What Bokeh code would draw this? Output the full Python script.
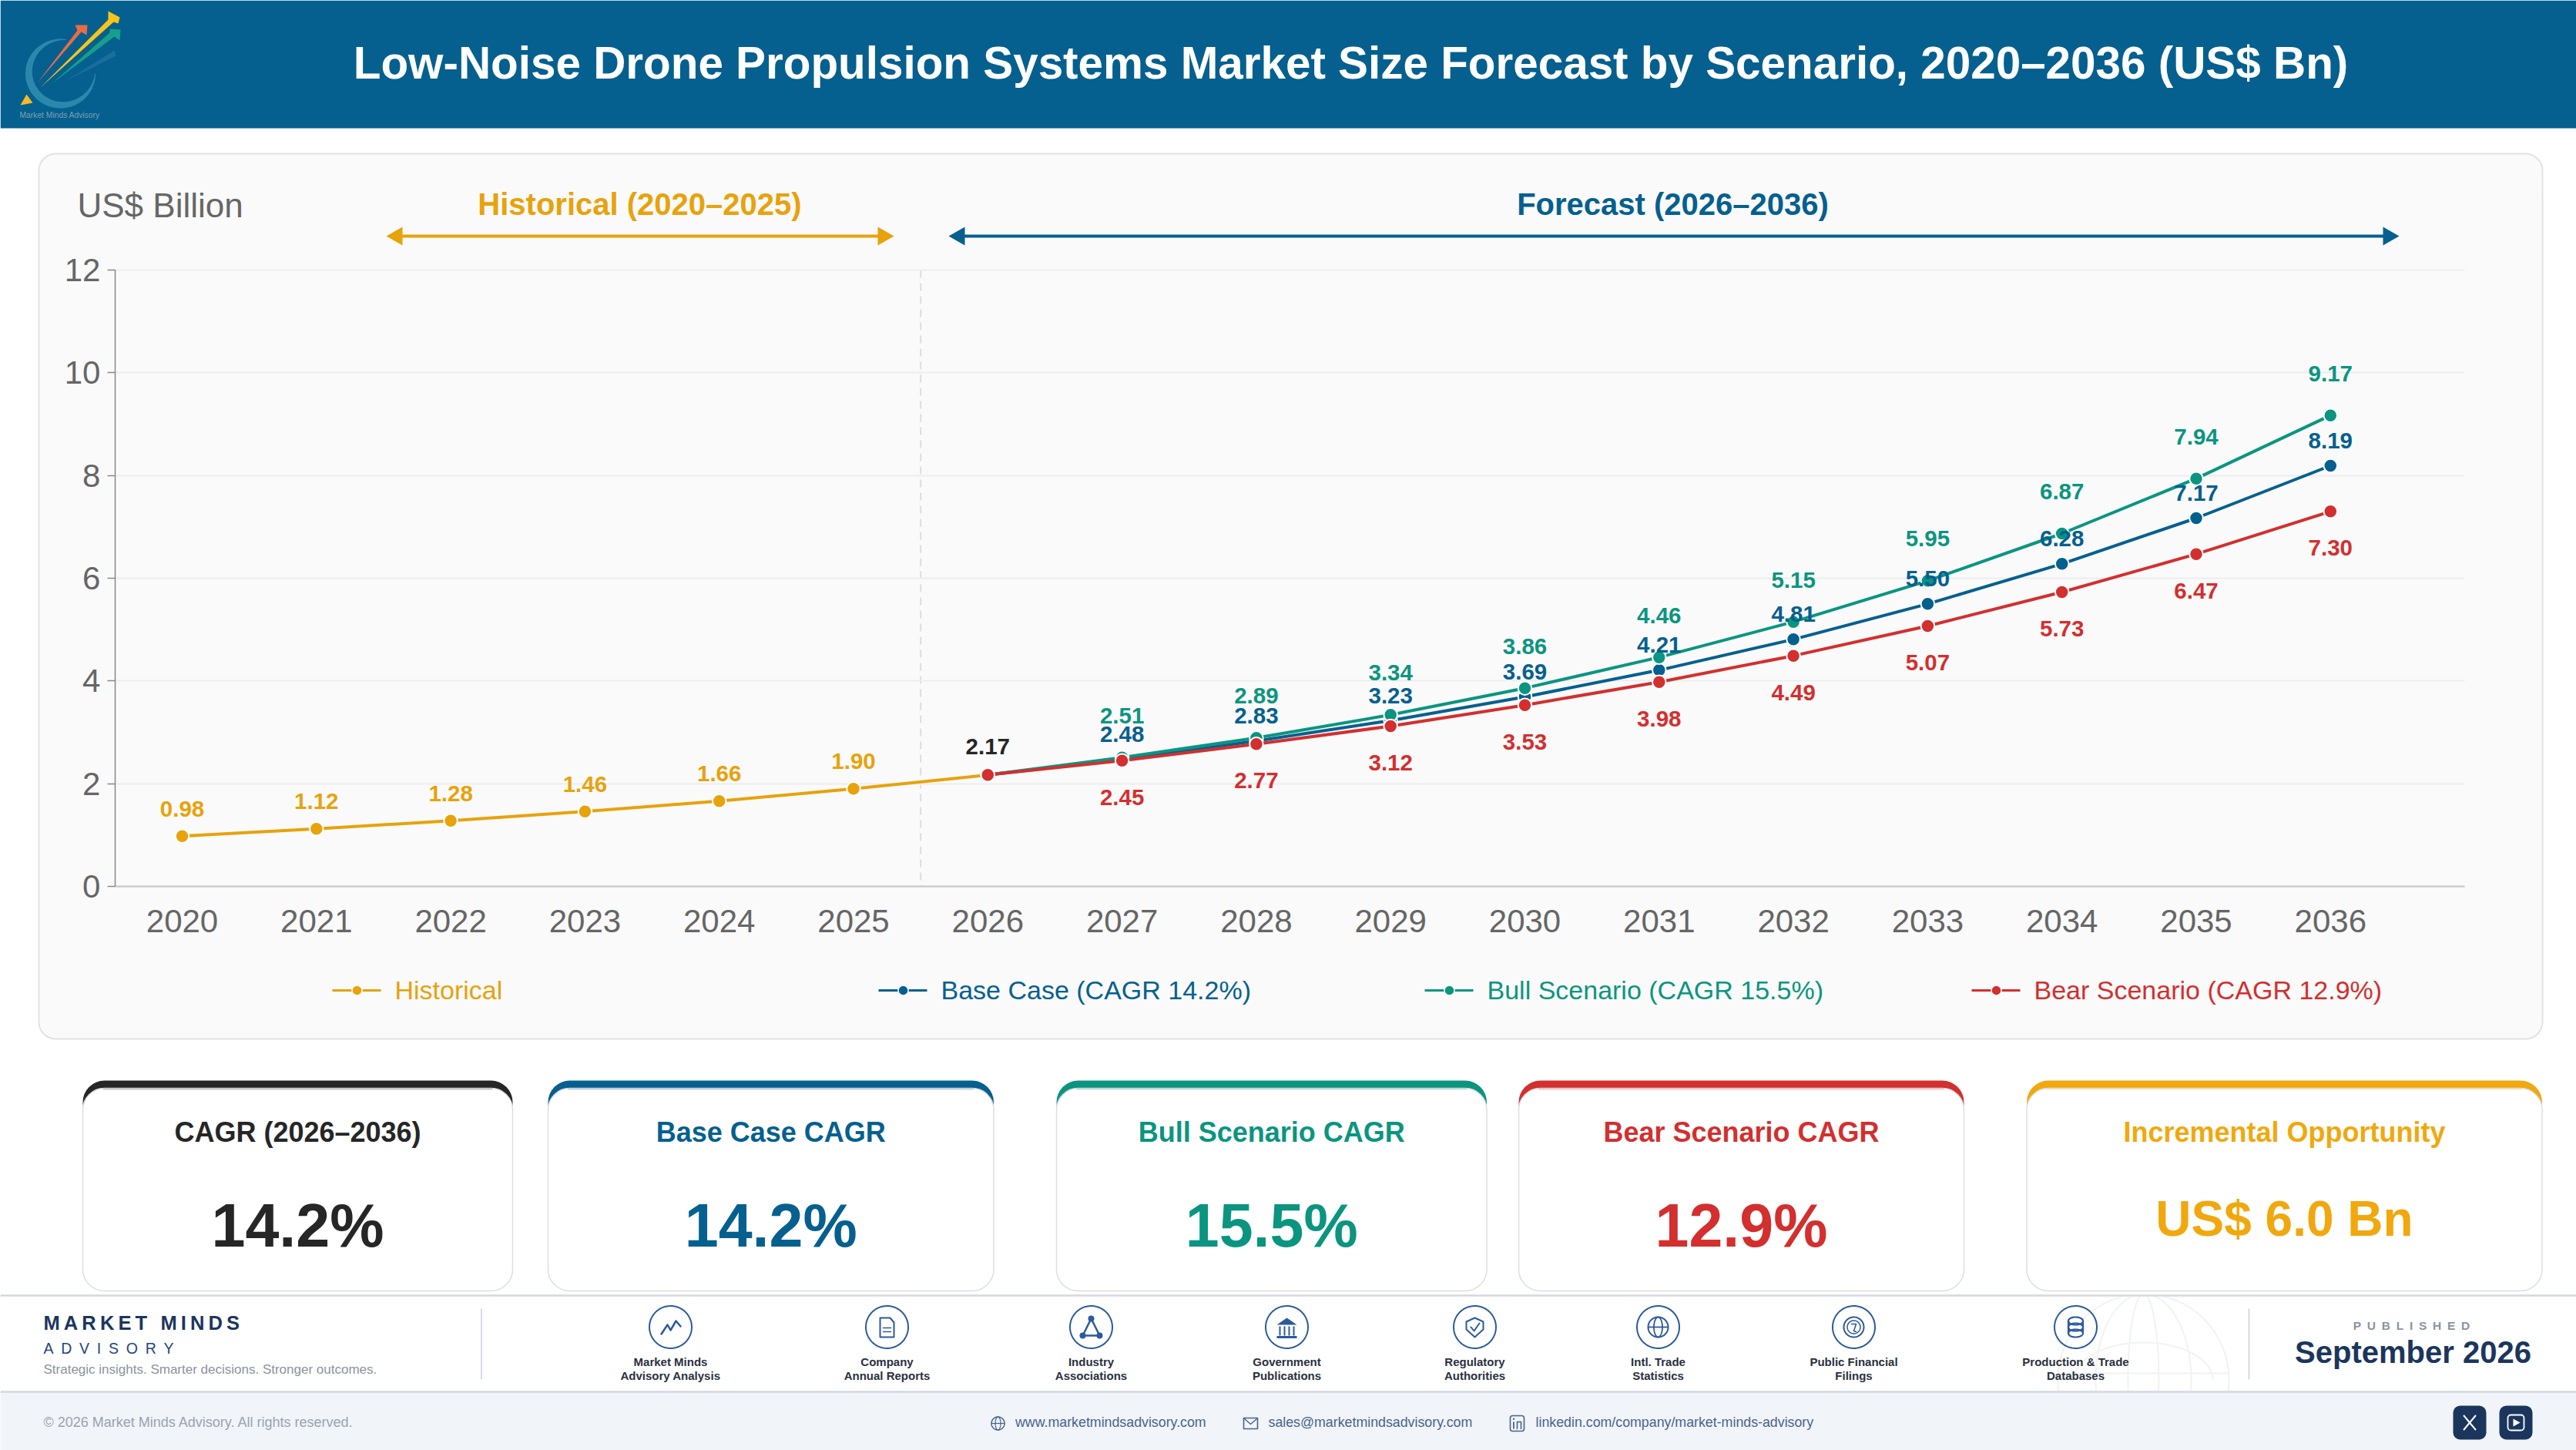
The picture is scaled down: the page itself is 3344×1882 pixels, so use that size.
import numpy as np
from bokeh.core.properties import value
from bokeh.embed import file_html
from bokeh.models import FixedTicker, Grid, LinearAxis, Range1d
from bokeh.plotting import figure
from bokeh.resources import INLINE

# ---- data -------------------------------------------------------------
YEARS_HIST = [2020, 2021, 2022, 2023, 2024, 2025, 2026]
HISTORICAL = [0.98, 1.12, 1.28, 1.46, 1.66, 1.90, 2.17]
YEARS_FCST = [2026, 2027, 2028, 2029, 2030, 2031, 2032, 2033, 2034, 2035, 2036]
BASE = [2.17, 2.48, 2.83, 3.23, 3.69, 4.21, 4.81, 5.50, 6.28, 7.17, 8.19]
BULL = [2.17, 2.51, 2.89, 3.34, 3.86, 4.46, 5.15, 5.95, 6.87, 7.94, 9.17]
BEAR = [2.17, 2.45, 2.77, 3.12, 3.53, 3.98, 4.49, 5.07, 5.73, 6.47, 7.30]
X_TICKS = YEARS_HIST + YEARS_FCST[1:]
Y_TICKS = [0, 2, 4, 6, 8, 10, 12]

TITLE = "Low-Noise Drone Propulsion Systems Market Size Forecast by Scenario, 2020\u20132036 (US$ Bn)"
KPI_TITLES = ["CAGR (2026\u20132036)", "Base Case CAGR", "Bull Scenario CAGR", "Bear Scenario CAGR", "Incremental Opportunity"]
KPI_VALUES = ["14.2%", "14.2%", "15.5%", "12.9%", "US$ 6.0 Bn"]
SOURCES = [("Market Minds", "Advisory Analysis"), ("Company", "Annual Reports"), ("Industry", "Associations"),
           ("Government", "Publications"), ("Regulatory", "Authorities"), ("Intl. Trade", "Statistics"),
           ("Public Financial", "Filings"), ("Production & Trade", "Databases")]

# ---- palette -----------------------------------------------------------
HEAD = "#05608F"
BLUE = "#05608F"
GREEN = "#0B9580"
RED = "#D32F2F"
AMBER = "#E8A20C"
AMBER2 = "#F0A80E"
INK = "#262626"
NAVY = "#1B365D"
ICON = "#2B5A9E"
GREY = "#666666"
FONT = "Liberation Sans"

# ---- figure: the frame fills the page, data ranges placed on the page --
PW, PH = 3344, 1882
X0, XU = 236.0, 174.3     # page x of 2020, pixels per year
Y0, YU = 1150.0, 800 / 12 # page y of value 0, pixels per unit

p = figure(width=PW, height=PH, output_backend="svg", toolbar_location=None,
           x_range=Range1d(2020 - X0 / XU, 2020 + (PW - X0) / XU),
           y_range=Range1d(-(PH - Y0) / YU, Y0 / YU),
           min_border=0, outline_line_color=None, background_fill_color="white",
           border_fill_color="white", x_axis_type=None, y_axis_type=None)
p.xgrid.visible = False
p.ygrid.visible = False
p.extra_x_ranges = {"px": Range1d(0, PW)}
p.extra_y_ranges = {"py": Range1d(PH, 0)}
PG = dict(x_range_name="px", y_range_name="py")


def box(l, t, r, b, fill, line=None, lw=1.0, radius=0, level="image"):
    p.quad(left=[l], right=[r], top=[t], bottom=[b], fill_color=fill, line_color=line,
           line_width=lw, border_radius=radius, level=level, **PG)


def pline(xs, ys, color, lw=2.0, level="image", dash="solid", alpha=1.0, cap="round"):
    p.line(list(xs), list(ys), line_color=color, line_width=lw, level=level, line_dash=dash,
           line_alpha=alpha, line_cap=cap, line_join="round", **PG)


def tri(xs, ys, color, level="image", alpha=1.0):
    p.patch(list(xs), list(ys), fill_color=color, line_color=None, level=level, fill_alpha=alpha, **PG)


def label(x, y, s, size, color, bold=False, align="left"):
    # y is the wanted baseline; the text box is anchored on its cap-height middle
    p.text([x], [y - 0.358 * size], text=[s], text_font=value(FONT), text_font_size=f"{size}px",
           text_font_style="bold" if bold else "normal", text_color=color, text_align=align,
           text_baseline="alphabetic", level="overlay", **PG)


def ring(cx, cy, rx, ry, color, lw=2.0, a0=0.0, a1=2 * np.pi, level="image", alpha=1.0):
    t = np.linspace(a0, a1, 80)
    pline(cx + rx * np.cos(t), cy + ry * np.sin(t), color, lw, level=level, alpha=alpha)


# ---- header ------------------------------------------------------------
box(0, 0, PW, 166, HEAD)
# logo: swoosh (crescent), arrows, small triangle
ang = np.radians(np.linspace(-80, -360, 90))
wid = 9 * np.sin(np.linspace(0, np.pi, 90)) + 0.8
sx = np.concatenate([78 + 45.5 * np.cos(ang), (78 + (45.5 - wid) * np.cos(ang))[::-1]])
sy = np.concatenate([95 + 45 * np.sin(ang), (95 + (45 - wid) * np.sin(ang))[::-1]])
tri(sx, sy, "#2B88AB")
tri([84, 148, 150], [105, 65, 72], "#2B77A8", alpha=0.6)
tri([48, 100, 97, 113, 112, 105], [107, 39, 32, 32, 45, 41], "#EE6A45")
tri([52, 140, 140, 155, 153, 147], [113, 25, 14, 22, 30, 28], "#F7C51A")
tri([68, 142, 142, 156, 155, 148], [107, 42, 37, 38, 52, 47], "#16A08A")
tri([26, 34, 42], [136, 122, 133], "#F7B924")
label(25, 153, "Market Minds Advisory", 10.3, "#7E9FB5")
label(1753, 102, TITLE, 58.4, "white", bold=True, align="center")

# ---- chart panel -------------------------------------------------------
box(50, 199, 3300, 1348, "#FAFAFA", "#E2E2E2", 2, 22)
label(100, 282, "US$ Billion", 44, GREY)
label(830, 279, "Historical (2020\u20132025)", 40, AMBER, bold=True, align="center")
label(2171, 279, "Forecast (2026\u20132036)", 40, BLUE, bold=True, align="center")
for (l, r, c) in [(501, 1160, AMBER), (1231, 3114, BLUE)]:
    pline([l + 15, r - 15], [306, 306], c, 4, cap="butt")
    tri([l, l + 21, l + 21], [306, 294, 318], c)
    tri([r, r - 21, r - 21], [306, 294, 318], c)

# grid and axes
XB = (2019.5, 2037.0)
p.add_layout(Grid(dimension=1, ticker=FixedTicker(ticks=Y_TICKS[1:]), cross_bounds=XB,
                  grid_line_color="#EDEDED", grid_line_width=2))
xax = LinearAxis(ticker=FixedTicker(ticks=X_TICKS), fixed_location=0, bounds=XB,
                 major_label_overrides={y: str(y) for y in X_TICKS},
                 major_tick_line_color=None, minor_tick_line_color=None,
                 axis_line_color="#CCCCCC", axis_line_width=2.5,
                 major_label_text_font=FONT, major_label_text_font_size="42px",
                 major_label_text_color=GREY, major_label_standoff=24)
yax = LinearAxis(ticker=FixedTicker(ticks=Y_TICKS), fixed_location=XB[0], bounds=(0, 12),
                 major_tick_line_color="#888888", major_tick_line_width=1.5,
                 major_tick_in=0, major_tick_out=10, minor_tick_line_color=None,
                 axis_line_color="#888888", axis_line_width=1.5,
                 major_label_text_font=FONT, major_label_text_font_size="42px",
                 major_label_text_color=GREY, major_label_standoff=9)
p.add_layout(xax, "below")
p.add_layout(yax, "left")

# dashed divider between history and forecast
p.line([2025.5, 2025.5], [12, 0], line_color="#DDDDDD", line_width=2, line_dash=[10, 7], level="underlay")

# series
for xs, ys, c in [(YEARS_HIST, HISTORICAL, AMBER), (YEARS_FCST, BASE, BLUE), (YEARS_FCST, BULL, GREEN), (YEARS_FCST, BEAR, RED)]:
    p.line(xs, ys, line_color=c, line_width=4)
    p.scatter(xs, ys, size=17.5, fill_color=c, line_color="white", line_width=2)


def value_labels(xs, ys, color, off):
    p.text(xs, ys, text=[f"{v:.2f}" for v in ys], text_font=value(FONT), text_font_size="29.5px",
           text_font_style="bold", text_color=color, text_align="center",
           text_baseline="alphabetic", y_offset=off - 10.6, level="overlay")


value_labels(YEARS_HIST[:6], HISTORICAL[:6], AMBER, -25)
value_labels(YEARS_HIST[6:], HISTORICAL[6:], INK, -26)
value_labels(YEARS_FCST[1:], BASE[1:], BLUE, -22)
value_labels(YEARS_FCST[1:], BULL[1:], GREEN, -44)
value_labels(YEARS_FCST[1:], BEAR[1:], RED, 58)

# legend
LEGEND = [("Historical", AMBER, 431), ("Base Case (CAGR 14.2%)", BLUE, 1140),
          ("Bull Scenario (CAGR 15.5%)", GREEN, 1849), ("Bear Scenario (CAGR 12.9%)", RED, 2559)]
for s, c, x in LEGEND:
    pline([x, x + 63], [1285, 1285], c, 3, level="glyph", cap="butt")
    p.scatter([x + 32], [1285], size=13, fill_color=c, line_color="#FAFAFA", line_width=1.5, **PG)
    label(x + 81, 1296.5, s, 34, c)

# ---- KPI cards ---------------------------------------------------------
CARDS = [(107, 665, INK), (711, 1289.5, BLUE), (1371, 1929.5, GREEN), (1971, 2549, RED), (2630.5, 3299.5, AMBER2)]
for i, (l, r, c) in enumerate(CARDS):
    box(l, 1402, r, 1460, c, None, 1, 28)
    box(l, 1412, r, 1675, "white", "#DEDEDE", 1.5, 28)
    pline([l + 26, r - 26], [1413, 1413], c, 2.5, alpha=0.2, cap="butt")
    cx = (l + r) / 2
    label(cx, 1482, KPI_TITLES[i], 36, c, bold=True, align="center")
    if i == 4:
        label(cx, 1604, KPI_VALUES[i], 64, c, bold=True, align="center")
    else:
        label(cx, 1618, KPI_VALUES[i], 79, c, bold=True, align="center")

# ---- footer ------------------------------------------------------------
# watermark globe sits under the footer strip
t_ = np.linspace(0, 2 * np.pi, 120)
for rx in (111, 62, 20):
    xs, ys = 2782 + rx * np.cos(t_), 1790 + 111 * np.sin(t_)
    ys2 = np.where(ys < 1682, np.nan, ys)
    pline(xs, ys2, "#F1F2F5", 2)
pline([2671, 2893], [1782, 1782], "#F1F2F5", 2)
ring(2782, 1790, 90, 48, "#F1F2F5", 2, a0=np.pi, a1=2 * np.pi)

box(0, 1806, PW, PH, "#F1F4F9")
pline([0, PW], [1681, 1681], "#D3D7E3", 2.5, cap="butt")
pline([0, PW], [1806, 1806], "#D3D7E3", 2.5, cap="butt")

label(56, 1726, "\u2009".join("MARKET MINDS"), 25.5, NAVY, bold=True)
label(56, 1756, "\u2002".join("ADVISORY"), 19.5, "#24487C")
label(56, 1783, "Strategic insights. Smarter decisions. Stronger outcomes.", 17, "#8B93A0")
pline([624.5, 624.5], [1698, 1790], "#C9CEDA", 1.5, cap="butt")
pline([2919, 2919], [1698, 1790], "#C9CEDA", 1.5, cap="butt")
label(3130, 1726, "\u2002".join("PUBLISHED"), 15.5, "#8B93A0", bold=True, align="center")
label(3132, 1769, "September 2026", 40, NAVY, bold=True, align="center")

CX = [870, 1151, 1416, 1670, 1914, 2152, 2406, 2694]
CY = 1722
for x, (a, b) in zip(CX, SOURCES):
    ring(x, CY, 27.5, 27.5, ICON, 2)
    label(x, 1772, a, 15, "#2A3040", bold=True, align="center")
    label(x, 1790, b, 15, "#2A3040", bold=True, align="center")

x = CX[0]
pline([x - 12, x - 4, x, x + 7, x + 13], [CY + 9, CY - 3, CY + 4, CY - 8, CY - 1], ICON, 2.5)
x = CX[1]
pline([x - 9, x + 4, x + 9, x + 9, x - 9, x - 9], [CY - 12, CY - 12, CY - 6, CY + 13, CY + 13, CY - 12], ICON, 2)
pline([x - 5, x + 5], [CY + 1, CY + 1], ICON, 1.5)
pline([x - 5, x + 5], [CY + 6, CY + 6], ICON, 1.5)
x = CX[2]
pline([x, x - 11, x + 11, x], [CY - 11, CY + 11, CY + 11, CY - 11], ICON, 2.5)
p.scatter([x, x - 11, x + 11], [CY - 11, CY + 11, CY + 11], size=8, fill_color=ICON, line_color=None, level="image", **PG)
x = CX[3]
tri([x, x - 13, x + 13], [CY - 12, CY - 3, CY - 3], ICON)
for dx in (-9, -3, 3, 9):
    pline([x + dx, x + dx], [CY - 1, CY + 11], ICON, 2, cap="butt")
pline([x - 13, x + 13], [CY + 13, CY + 13], ICON, 3, cap="butt")
x = CX[4]
pline([x, x + 11, x + 11, x, x - 11, x - 11, x], [CY - 12, CY - 7, CY + 3, CY + 13, CY + 3, CY - 7, CY - 12], ICON, 2)
pline([x - 5, x - 1, x + 6], [CY, CY + 5, CY - 5], ICON, 2)
x = CX[5]
ring(x, CY, 13, 13, ICON, 2)
ring(x, CY, 5.5, 13, ICON, 1.8)
pline([x - 13, x + 13], [CY, CY], ICON, 1.8, cap="butt")
x = CX[6]
ring(x, CY, 13, 13, ICON, 2)
ring(x, CY, 8.5, 8.5, ICON, 1.5)
pline([x - 3, x + 3, x, x + 3], [CY - 4, CY - 4, CY + 5, CY + 6], ICON, 1.6)
x = CX[7]
for dy in (-8, 0, 8):
    ring(x, CY + dy, 9.5, 5, ICON, 2.2)
pline([x - 9.5, x - 9.5], [CY - 8, CY + 8], ICON, 2.2, cap="butt")
pline([x + 9.5, x + 9.5], [CY - 8, CY + 8], ICON, 2.2, cap="butt")

# bottom strip
SLATE = "#48648C"
label(56, 1852, "\u00a9 2026 Market Minds Advisory. All rights reserved.", 18, "#9AA3B0")
label(1317.5, 1852, "www.marketmindsadvisory.com", 17.8, SLATE)
label(1646, 1852, "sales@marketmindsadvisory.com", 17.8, SLATE)
label(1993, 1852, "linkedin.com/company/market-minds-advisory", 17.8, SLATE)
ring(1295, 1847, 8.5, 8.5, SLATE, 1.5)
ring(1295, 1847, 3.5, 8.5, SLATE, 1.2)
pline([1286.5, 1303.5], [1847, 1847], SLATE, 1.2, cap="butt")
pline([1614, 1632, 1632, 1614, 1614], [1840, 1840, 1854, 1854, 1840], SLATE, 1.6)
pline([1615, 1623, 1631], [1841, 1848, 1841], SLATE, 1.4)
box(1960, 1837, 1978, 1857, None, SLATE, 1.6, 3)
pline([1964.5, 1964.5], [1845, 1854], SLATE, 1.8, cap="butt")
pline([1964.5, 1964.6], [1841, 1841.5], SLATE, 2.2)
pline([1969, 1969, 1974, 1974], [1854, 1845, 1845, 1854], SLATE, 1.6)

box(3184, 1824, 3227, 1868, NAVY, None, 1, 9)
pline([3198, 3213], [1837, 1855], "white", 2)
pline([3213, 3198], [1837, 1855], "white", 2)
box(3244, 1824, 3287, 1868, NAVY, None, 1, 9)
box(3255, 1836, 3276, 1856, None, "white", 1.8, 4)
tri([3262, 3262, 3271], [1841, 1851, 1846], "white")

open("out.html", "w").write(file_html(p, INLINE))
